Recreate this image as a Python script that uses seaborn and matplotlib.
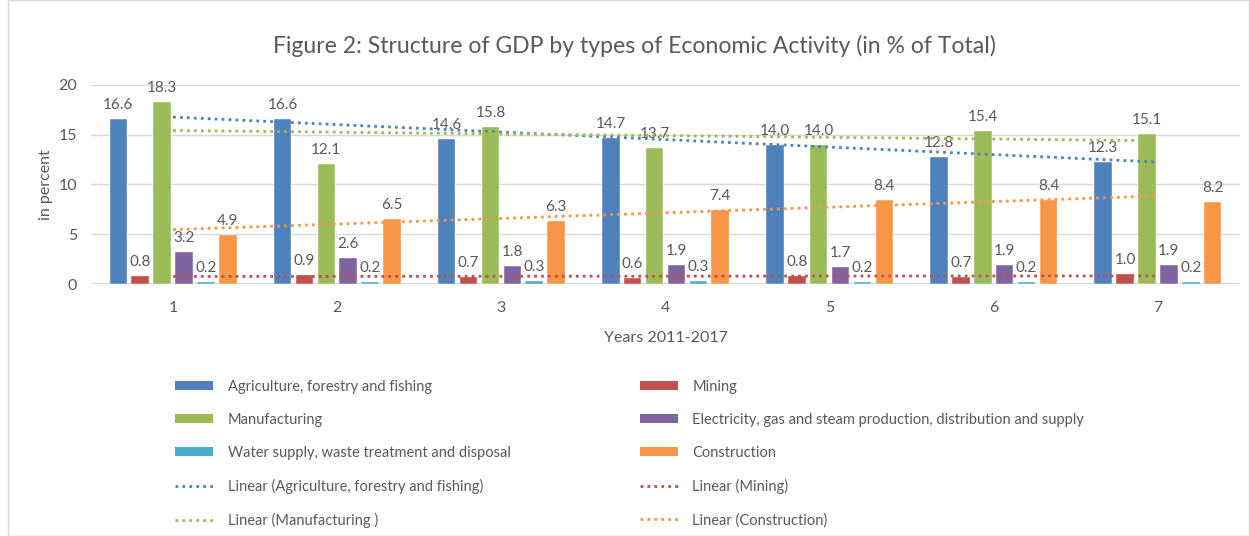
import numpy as np
import pandas as pd
import seaborn as sns
import matplotlib.pyplot as plt
from matplotlib.lines import Line2D
from matplotlib.patches import Patch, Rectangle

years = ["1", "2", "3", "4", "5", "6", "7"]
agriculture = [16.6, 16.6, 14.6, 14.7, 14.0, 12.8, 12.3]
mining = [0.8, 0.9, 0.7, 0.6, 0.8, 0.7, 1.0]
manufacturing = [18.3, 12.1, 15.8, 13.7, 14.0, 15.4, 15.1]
electricity = [3.2, 2.6, 1.8, 1.9, 1.7, 1.9, 1.9]
water = [0.2, 0.2, 0.3, 0.3, 0.2, 0.2, 0.2]
construction = [4.9, 6.5, 6.3, 7.4, 8.4, 8.4, 8.2]

series_names = [
    "Agriculture, forestry and fishing",
    "Mining",
    "Manufacturing",
    "Electricity, gas and steam production, distribution and supply",
    "Water supply, waste treatment and disposal",
    "Construction",
]
series_values = [agriculture, mining, manufacturing, electricity, water, construction]
colors = ["#4F81BD", "#C0504D", "#9BBB59", "#8064A2", "#4BACC6", "#F79646"]

sns.set_theme(style="white")
plt.rcParams["font.family"] = ["Lato", "DejaVu Sans"]
TXT = "#595959"

rows = []
for name, vals in zip(series_names, series_values):
    for y, v in zip(years, vals):
        rows.append({"year": y, "series": name, "value": v})
df = pd.DataFrame(rows)

fig = plt.figure(figsize=(12.49, 5.36), dpi=100)
ax = fig.add_axes([91 / 1249, 1 - 284 / 536, (1240 - 91) / 1249, (284 - 85) / 536])

sns.barplot(data=df, x="year", y="value", hue="series", hue_order=series_names,
            palette=colors, order=years, gap=0.2, width=0.8, ax=ax, legend=False,
            errorbar=None, saturation=1, edgecolor="white", linewidth=0.3)

for cont in ax.containers:
    ax.bar_label(cont, fmt="%.1f", padding=5, fontsize=11, color=TXT, clip_on=False)

# linear trend lines
xs = np.arange(len(years))
trend_idx = [0, 1, 2, 5]
trend_labels = [
    "Linear (Agriculture, forestry and fishing)",
    "Linear (Mining)",
    "Linear (Manufacturing )",
    "Linear (Construction)",
]
for i in trend_idx:
    k, b = np.polyfit(xs, series_values[i], 1)
    ax.plot(xs, k * xs + b, linestyle=(0, (1, 1.5)), color=colors[i], lw=2, zorder=5)

ax.set_xlim(-0.5, len(years) - 0.5)
ax.set_ylim(0, 20)
ax.set_yticks([0, 5, 10, 15, 20])
ax.grid(axis="y", color="#D9D9D9", lw=1)
ax.set_axisbelow(True)
for s in ax.spines.values():
    s.set_visible(False)
ax.axhline(0, color="#D9D9D9", lw=1.5, zorder=0.5)
ax.tick_params(axis="both", length=0, labelsize=11.5, colors=TXT, pad=12)
ax.tick_params(axis="y", pad=10)
ax.set_xlabel("Years 2011-2017", fontsize=11.5, color=TXT, labelpad=12)
ax.set_ylabel("in percent", fontsize=11.5, color=TXT, labelpad=4)

fig.text(634 / 1249, 1 - 46 / 536, "Figure 2: Structure of GDP by types of Economic Activity (in % of Total)",
         ha="center", va="center", fontsize=16.6, color=TXT)

# legend (row-major order, two columns placed separately)
bar_h = [Patch(facecolor=c, edgecolor="none") for c in colors]
line_h = [Line2D([], [], color=colors[i], lw=2, linestyle=(0, (1, 1.5))) for i in trend_idx]
col1 = [bar_h[0], bar_h[2], bar_h[4], line_h[0], line_h[2]]
col1_l = [series_names[0], series_names[2], series_names[4], trend_labels[0], trend_labels[2]]
col2 = [bar_h[1], bar_h[3], bar_h[5], line_h[1], line_h[3]]
col2_l = [series_names[1], series_names[3], series_names[5], trend_labels[1], trend_labels[3]]
common = dict(loc="upper left", frameon=False, fontsize=10.5, handlelength=2.6,
              handleheight=0.6, handletextpad=1.0, labelspacing=1.3, labelcolor=TXT,
              borderaxespad=0, borderpad=0)
leg1 = fig.legend(col1, col1_l, bbox_to_anchor=(175 / 1249, 1 - 380 / 536), **common)
leg2 = fig.legend(col2, col2_l, bbox_to_anchor=(640 / 1249, 1 - 380 / 536), **common)

fig.patches.append(Rectangle((8 / 1249, 0), 1 - 8 / 1249, 1, transform=fig.transFigure,
                             fill=False, edgecolor="#D9D9D9", lw=1))

fig.savefig("out.png", dpi=100, facecolor="white")
